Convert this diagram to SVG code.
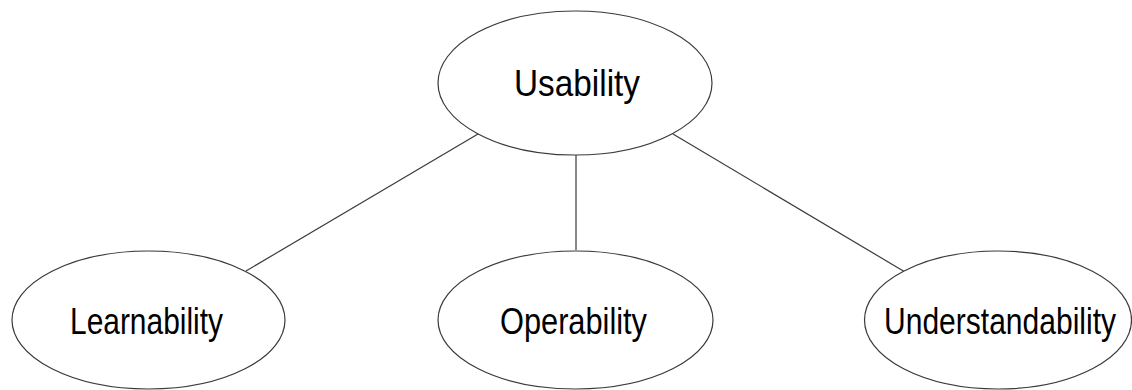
<svg xmlns="http://www.w3.org/2000/svg" width="1132" height="390" viewBox="0 0 1132 390">
<style>
.node{fill:#ffffff;stroke:#3a3a3a;stroke-width:1.2}
.edge{stroke:#3a3a3a;stroke-width:1.2;fill:none}
.label{font-family:"Liberation Sans",Arial,sans-serif;font-size:36px;fill:#000000}
</style>
<rect width="1132" height="390" fill="#ffffff"/>
<g id="connectors">
<line class="edge" x1="478" y1="134" x2="246" y2="271"/>
<line class="edge" x1="576" y1="155" x2="576" y2="250"/>
<line class="edge" x1="673" y1="134" x2="905" y2="272"/>
</g>
<g id="usability">
<ellipse class="node" cx="575" cy="83" rx="137" ry="72"/>
<text class="label" x="514" y="96" textLength="126" lengthAdjust="spacingAndGlyphs">Usability</text>
</g>
<g id="learnability">
<ellipse class="node" cx="148.5" cy="320" rx="136.5" ry="69"/>
<text class="label" x="70" y="334" textLength="153" lengthAdjust="spacingAndGlyphs">Learnability</text>
</g>
<g id="operability">
<ellipse class="node" cx="575.5" cy="320" rx="137.5" ry="69"/>
<text class="label" x="500" y="334" textLength="147" lengthAdjust="spacingAndGlyphs">Operability</text>
</g>
<g id="understandability">
<ellipse class="node" cx="998" cy="320" rx="133.5" ry="69"/>
<text class="label" x="884" y="334" textLength="232" lengthAdjust="spacingAndGlyphs">Understandability</text>
</g>
</svg>
